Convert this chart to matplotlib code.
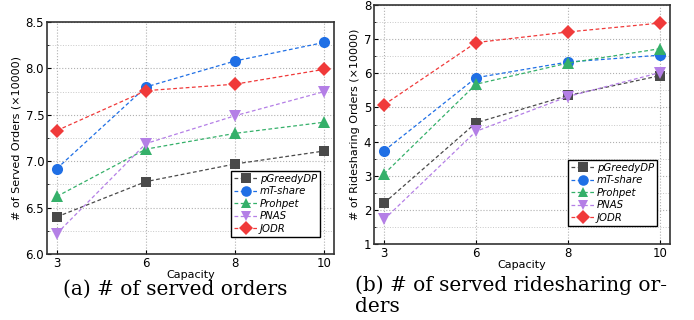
import matplotlib
matplotlib.use("Agg")
import matplotlib.pyplot as plt
from matplotlib.ticker import MultipleLocator

capacity = ['3', '6', '8', '10']
methods = ['pGreedyDP', 'mT-share', 'Prohpet', 'PNAS', 'JODR']

served = {
    'pGreedyDP': [6.40, 6.78, 6.97, 7.11],
    'mT-share': [6.92, 7.80, 8.08, 8.28],
    'Prohpet': [6.62, 7.13, 7.30, 7.42],
    'PNAS': [6.22, 7.19, 7.49, 7.75],
    'JODR': [7.33, 7.76, 7.83, 7.99],
}
rideshare = {
    'pGreedyDP': [2.20, 4.55, 5.35, 5.93],
    'mT-share': [3.73, 5.87, 6.33, 6.53],
    'Prohpet': [3.05, 5.68, 6.30, 6.72],
    'PNAS': [1.72, 4.30, 5.32, 6.02],
    'JODR': [5.08, 6.90, 7.21, 7.47],
}

colors = {'pGreedyDP': '#4a4a4a', 'mT-share': '#1f6fe5', 'Prohpet': '#35b06a',
          'PNAS': '#b47fe6', 'JODR': '#f03a3a'}
markers = {'pGreedyDP': 's', 'mT-share': 'o', 'Prohpet': '^', 'PNAS': 'v', 'JODR': 'D'}
msizes = {'pGreedyDP': 7, 'mT-share': 8, 'Prohpet': 8, 'PNAS': 8, 'JODR': 7}

fig = plt.figure(figsize=(6.94, 3.2), dpi=100)
ax1 = fig.add_axes([47/694, 1-254/320, 287/694, 232/320])
ax2 = fig.add_axes([374/694, 1-244/320, 296/694, 239/320])


def draw(ax, data, ylim, major, minor, ylabel, legend_box):
    xs = range(len(capacity))
    for m in methods:
        ax.plot(xs, data[m], linestyle=(0, (3, 2)), linewidth=0.9,
                color=colors[m], marker=markers[m], markersize=msizes[m],
                markeredgewidth=0, label=m)
    ax.set_xlim(-0.11, len(capacity) - 1 + 0.11)
    ax.set_ylim(*ylim)
    ax.set_xticks(list(xs))
    ax.set_xticklabels(capacity)
    ax.yaxis.set_major_locator(MultipleLocator(major))
    ax.yaxis.set_minor_locator(MultipleLocator(minor))
    ax.grid(True, which='major', color='#b0b0b0', linestyle=':', linewidth=0.8)
    ax.grid(True, which='minor', axis='y', color='#c8c8c8', linestyle=':', linewidth=0.7)
    ax.tick_params(direction='in', which='both', labelsize=8.5, length=3, pad=2)
    ax.tick_params(which='minor', length=1.5)
    for s in ax.spines.values():
        s.set_linewidth(1.2)
        s.set_color('#333333')
    ax.set_xlabel('Capacity', fontsize=8, labelpad=0)
    ax.set_ylabel(ylabel, fontsize=8, labelpad=3)
    leg = ax.legend(loc='lower right', bbox_to_anchor=legend_box,
                    prop={'style': 'italic', 'size': 7.3}, fancybox=False,
                    edgecolor='black', framealpha=1, handlelength=2.2,
                    borderpad=0.3, labelspacing=0.25, handletextpad=0.3,
                    borderaxespad=0, markerscale=0.95)
    leg.get_frame().set_linewidth(1.0)


draw(ax1, served, (6.0, 8.5), 0.5, 0.25, '# of Served Orders (×10000)',
     ((320-47)/287, (254-237)/232))
draw(ax2, rideshare, (1, 8), 1, 0.5, '# of Ridesharing Orders (×10000)',
     ((657-374)/296, (244-226)/239))

fig.text(175/694, 1-289/320, '(a) # of served orders', ha='center', va='center',
         family='serif', fontsize=14.5)
fig.text(355/694, 1-285/320, '(b) # of served ridesharing or-', ha='left', va='center',
         family='serif', fontsize=14.5)
fig.text(355/694, 1-306/320, 'ders', ha='left', va='center',
         family='serif', fontsize=14.5)

fig.savefig('out.png', dpi=100)
